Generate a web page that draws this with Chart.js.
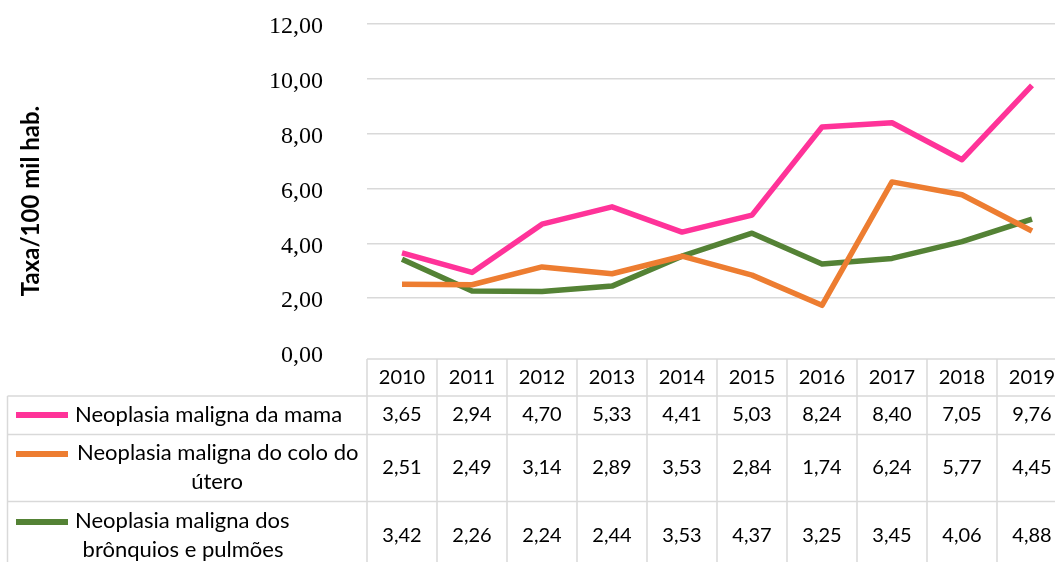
<!DOCTYPE html>
<html>
<head>
<meta charset="utf-8">
<script src="https://cdn.jsdelivr.net/npm/chart.js@4/dist/chart.umd.min.js"></script>
<style>
html,body{margin:0;padding:0;background:#fff;overflow:hidden;width:1055px;height:562px;}
#wrap{position:absolute;left:0;top:0;width:1080px;height:580px;}
</style>
</head>
<body>
<div id="wrap"><canvas id="c" width="1080" height="580"></canvas></div>
<script>
const years = ['2010','2011','2012','2013','2014','2015','2016','2017','2018','2019'];
const mama = [3.65,2.94,4.70,5.33,4.41,5.03,8.24,8.40,7.05,9.76];
const colo = [2.51,2.49,3.14,2.89,3.53,2.84,1.74,6.24,5.77,4.45];
const bronq = [3.42,2.26,2.24,2.44,3.53,4.37,3.25,3.45,4.06,4.88];
const seriesNames = ['Neoplasia maligna da mama','Neoplasia maligna do colo do útero','Neoplasia maligna dos brônquios e pulmões'];
const legendWrapped = [['Neoplasia maligna da mama'],['Neoplasia maligna do colo do','útero'],['Neoplasia maligna dos','brônquios e pulmões']];
const yTicks = [0,2,4,6,8,10,12];
const yTitle = 'Taxa/100 mil hab.';
const colors = ['#FF3399','#ED7D31','#548235'];

const fmt = v => v.toFixed(2).replace('.', ',');
const GRID = '#D9D9D9';
const NUMFONT = '20px Lato';
const LEGFONT = '22px Lato';

const tablePlugin = {
  id: 'dataTable',
  afterDraw(chart) {
    const ctx = chart.ctx;
    const x = chart.scales.x;
    const n = years.length;
    const cw = x.width / n;
    const left = x.left;
    const right = x.left + cw * n;
    const tTop = 359, r1 = 396, r2 = 434.5, r3 = 501.5, tBot = 600;
    const legLeft = 7.5;
    ctx.save();
    ctx.strokeStyle = GRID;
    ctx.lineWidth = 1.5;
    ctx.beginPath();
    ctx.moveTo(left, tTop); ctx.lineTo(right, tTop);
    ctx.moveTo(legLeft, r1); ctx.lineTo(right, r1);
    ctx.moveTo(legLeft, r2); ctx.lineTo(right, r2);
    ctx.moveTo(legLeft, r3); ctx.lineTo(right, r3);
    ctx.moveTo(legLeft, r1); ctx.lineTo(legLeft, tBot);
    for (let i = 0; i <= n; i++) {
      const xx = left + cw * i;
      ctx.moveTo(xx, tTop); ctx.lineTo(xx, tBot);
    }
    ctx.stroke();

    ctx.fillStyle = '#000';
    ctx.font = NUMFONT;
    ctx.textAlign = 'center';
    ctx.textBaseline = 'middle';
    const rowsY = [415, 468, 536];
    const all = [mama, colo, bronq];
    years.forEach((yr, i) => {
      const cx = x.getPixelForValue(i);
      ctx.fillText(yr, cx, 378);
      all.forEach((arr, s) => ctx.fillText(fmt(arr[i]), cx, rowsY[s]));
    });

    // legend keys
    const keyY = [415, 454, 522];
    colors.forEach((c, s) => {
      ctx.strokeStyle = c;
      ctx.lineWidth = 6;
      ctx.beginPath();
      ctx.moveTo(16, keyY[s]); ctx.lineTo(68, keyY[s]);
      ctx.stroke();
    });
    // legend texts
    ctx.font = LEGFONT;
    ctx.fillStyle = '#000';
    ctx.textAlign = 'left';
    ctx.fillText(legendWrapped[0][0], 75, 415);
    ctx.fillText(legendWrapped[1][0], 77, 453);
    ctx.textAlign = 'center';
    ctx.fillText(legendWrapped[1][1], 217, 482);
    ctx.textAlign = 'left';
    ctx.fillText(legendWrapped[2][0], 75, 521);
    ctx.textAlign = 'center';
    ctx.fillText(legendWrapped[2][1], 183, 550);

    // y axis title
    ctx.save();
    ctx.translate(31, 201);
    ctx.rotate(-Math.PI / 2);
    ctx.font = 'bold 24px Lato';
    ctx.textAlign = 'center';
    ctx.textBaseline = 'middle';
    ctx.fillStyle = '#000';
    ctx.fillText(yTitle, 0, 0);
    ctx.restore();
    ctx.restore();
  }
};

new Chart(document.getElementById('c'), {
  type: 'line',
  data: {
    labels: years,
    datasets: [mama, colo, bronq].map((d, i) => ({
      label: seriesNames[i],
      data: d,
      borderColor: colors[i],
      backgroundColor: colors[i],
      borderWidth: 5.5,
      pointRadius: 0,
      tension: 0,
      fill: false,
      borderJoinStyle: 'round'
    }))
  },
  options: {
    responsive: false,
    animation: false,
    devicePixelRatio: 1,
    layout: { padding: { left: 0, top: 24, right: 13, bottom: 227 } },
    plugins: { legend: { display: false }, tooltip: { enabled: false }, title: { display: false } },
    scales: {
      x: { type: 'category', offset: true, display: false },
      y: {
        min: 0, max: 12,
        afterFit(s) { s.width = 367; s.paddingTop = 14; s.paddingBottom = 14; },
        afterBuildTicks(s) { s.ticks = yTicks.map(v => ({ value: v })); },
        border: { display: false },
        grid: {
          drawTicks: false,
          lineWidth: 1.5,
          color: c => (c.tick && c.tick.value === 0) ? 'rgba(0,0,0,0)' : GRID
        },
        ticks: {
          padding: 44,
          labelOffset: 3,
          color: '#000',
          font: { family: 'Liberation Serif', size: 24 },
          callback: v => fmt(v)
        }
      }
    }
  },
  plugins: [tablePlugin]
});
</script>
</body>
</html>
